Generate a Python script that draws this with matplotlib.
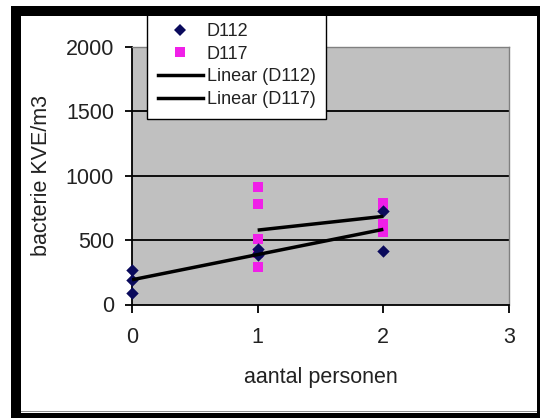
import matplotlib
matplotlib.use("Agg")
import matplotlib.pyplot as plt
from matplotlib.patches import Rectangle
from matplotlib.lines import Line2D
import numpy as np

plt.rcParams['font.family'] = ['Liberation Sans', 'DejaVu Sans']

# data
d112_x = [0, 0, 0, 1, 1, 1, 2, 2]
d112_y = [265, 192, 92, 385, 400, 430, 726, 414]
d117_x = [1, 1, 1, 1, 1, 2, 2, 2, 2]
d117_y = [910, 780, 505, 400, 290, 785, 760, 625, 565]
x_ticks = [0, 1, 2, 3]
y_ticks = [0, 500, 1000, 1500, 2000]
series_labels = ['D112', 'D117', 'Linear (D112)', 'Linear (D117)']
x_label = 'aantal personen'
y_label = 'bacterie KVE/m3'

W, H = 540, 418
fig = plt.figure(figsize=(W / 100, H / 100), dpi=100)
fig.patch.set_facecolor('white')

L, R, T, B = 132, 509, 46.7, 304.5
ax = fig.add_axes([L / W, 1 - B / H, (R - L) / W, (B - T) / H])
ax.set_facecolor('#c0c0c0')
ax.set_xlim(0, 3)
ax.set_ylim(0, 2000)

navy = '#0a0a5c'
magenta = '#f020e8'

# grid lines
for yv in y_ticks[1:-1]:
    ax.axhline(yv, color='black', lw=1.3, zorder=1)

# trend lines computed from data
def trend(xs, ys):
    b, a = np.polyfit(xs, ys, 1)
    xx = np.array([min(xs), max(xs)])
    return xx, a + b * xx

tx1, ty1 = trend(d112_x, d112_y)
tx2, ty2 = trend(d117_x, d117_y)

ax.scatter(d117_x, d117_y, marker='s', s=50, color=magenta, zorder=3, clip_on=False, linewidths=0)
ax.scatter(d112_x, d112_y, marker='D', s=40, color=navy, zorder=4, clip_on=False, linewidths=0)
ax.plot(tx1, ty1, color='black', lw=2.5, zorder=5, solid_capstyle='butt')
ax.plot(tx2, ty2, color='black', lw=2.5, zorder=5, solid_capstyle='butt')

ax.set_xticks(x_ticks)
ax.set_yticks(y_ticks)
ax.set_xticklabels([str(v) for v in x_ticks])
ax.set_yticklabels([str(v) for v in y_ticks])
ax.tick_params(axis='x', direction='out', length=6, width=1.3, pad=10, labelsize=15.5, colors='black')
ax.tick_params(axis='y', direction='out', length=5, width=1.3, pad=8, labelsize=15.5, colors='black')
for lab in ax.get_xticklabels() + ax.get_yticklabels():
    lab.set_color('#222222')

for s in ['left', 'bottom']:
    ax.spines[s].set_color('black')
    ax.spines[s].set_linewidth(1.3)
for s in ['top', 'right']:
    ax.spines[s].set_color('#808080')
    ax.spines[s].set_linewidth(1.0)

ax.set_xlabel(x_label, fontsize=15.5, color='#222222')
ax.set_ylabel(y_label, fontsize=15.5, color='#222222')
ax.xaxis.set_label_coords(0.5, (B - 378) / (B - T))
ax.xaxis.label.set_va('center')
ax.yaxis.set_label_coords((42 - L) / (R - L), 0.5)
ax.yaxis.label.set_va('center')

handles = [
    Line2D([], [], ls='none', marker='D', markersize=6.5, color=navy, markeredgewidth=0),
    Line2D([], [], ls='none', marker='s', markersize=7.5, color=magenta, markeredgewidth=0),
    Line2D([], [], color='black', lw=2.5),
    Line2D([], [], color='black', lw=2.5),
]
leg = ax.legend(handles, series_labels, loc='upper left',
                bbox_to_anchor=(147 / W, 1 - 12 / H), bbox_transform=fig.transFigure,
                fontsize=13, frameon=True, fancybox=False, framealpha=1,
                edgecolor='black', facecolor='white', borderaxespad=0,
                borderpad=0.6, labelspacing=0.32, handlelength=2.5,
                handletextpad=0.2)
leg.get_frame().set_linewidth(1.0)
for t in leg.get_texts():
    t.set_color('#222222')
leg.set_zorder(20)

# black frame around the picture
def px_rect(x0, y0, x1, y1, color='black'):
    fig.add_artist(Rectangle((x0 / W, 1 - y1 / H), (x1 - x0) / W, (y1 - y0) / H,
                             transform=fig.transFigure, facecolor=color,
                             edgecolor='none', zorder=30))

px_rect(11, 6, 540, 16)     # top
px_rect(11, 6, 21, 418)     # left
px_rect(11, 413, 540, 418)  # bottom
px_rect(537, 6, 540, 418)   # right
px_rect(21, 410.5, 537, 412, color='#909090')

fig.savefig('out.png', dpi=100)
